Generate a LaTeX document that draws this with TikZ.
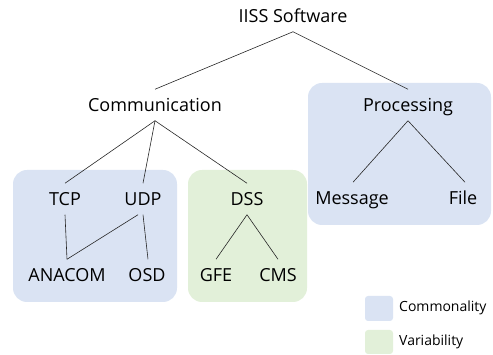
\documentclass[tikz,border=0pt]{standalone}
\usepackage{fontspec}
\setmainfont{Open Sans}
\usepackage{xcolor}
\usetikzlibrary{positioning}
\definecolor{CommonBlue}{HTML}{DAE3F3}
\definecolor{VarGreen}{HTML}{E2F0D9}

\begin{document}
\begin{tikzpicture}[x=1pt, y=-1pt,
    feat/.style={inner xsep=2pt, inner ysep=7pt, text height=15pt, text depth=2.1pt,
      font=\fontsize{18}{21}\selectfont},
    area/.style={rounded corners=14pt},
    legendtext/.style={anchor=west, inner sep=0pt, font=\fontsize{14}{16}\selectfont},
    link/.style={draw, line width=0.6pt, black!85}]
  \useasboundingbox (0,0) rectangle (493,355);

  % background areas
  \fill [CommonBlue, area] (13,170) rectangle (177,302);
  \fill [VarGreen, area] (188,170) rectangle (307,302);
  \fill [CommonBlue, area] (308,83) rectangle (491,225);

  % features
  \node [feat] (iiss) at (293,16) {IISS Software};
  \node [feat] (comm) at (155,105) {Communication};
  \node [feat] (proc) at (408,105) {Processing};
  \node [feat] (tcp) at (65,199) {TCP};
  \node [feat] (udp) at (143,199) {UDP};
  \node [feat] (dss) at (247,199) {DSS};
  \node [feat] (anacom) at (67,275) {ANACOM};
  \node [feat] (osd) at (147,275) {OSD};
  \node [feat] (gfe) at (216,275) {GFE};
  \node [feat] (cms) at (278,275) {CMS};
  \node [feat] (msg) at (352,198) {Message};
  \node [feat] (file) at (463,198) {File};

  % links
  \path [link] (iiss.south) -- (comm.north);
  \path [link] (iiss.south) -- (proc.north);
  \path [link] (comm.south) -- (tcp.north);
  \path [link] (comm.south) -- (udp.north);
  \path [link] (comm.south) -- (dss.north);
  \path [link] (tcp.south) -- (anacom.north);
  \path [link] ([xshift=-5pt]udp.south) -- (anacom.north);
  \path [link] (udp.south) -- ([xshift=1pt]osd.north);
  \path [link] (dss.south) -- (gfe.north);
  \path [link] (dss.south) -- (cms.north);
  \path [link] (proc.south) -- ([xshift=1pt]msg.north);
  \path [link] (proc.south) -- ([xshift=2pt]file.north);

  % legend
  \fill [CommonBlue, rounded corners=3pt] (365,296) rectangle (393,321);
  \fill [VarGreen, rounded corners=3pt] (365,330) rectangle (393,354);
  \node [legendtext] (common) at (399,308) {Commonality};
  \node [legendtext] (var) at (399,342) {Variability};
\end{tikzpicture}
\end{document}
